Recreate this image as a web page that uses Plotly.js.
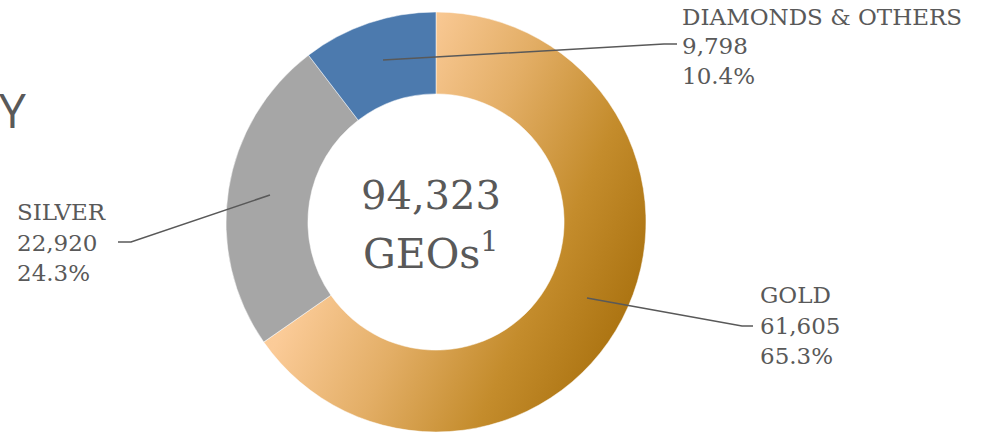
<!DOCTYPE html>
<html>
<head>
<meta charset="utf-8">
<script src="https://cdn.plot.ly/plotly-3.0.1.min.js"></script>
<style>html,body{margin:0;padding:0;background:#fff;}#chart{width:997px;height:433px;}</style>
</head>
<body>
<div id="chart"></div>
<script>
var categories = ["GOLD", "SILVER", "DIAMONDS & OTHERS"];
var values = [61605, 22920, 9798];
var valueLabels = ["61,605", "22,920", "9,798"];
var percentLabels = ["65.3%", "24.3%", "10.4%"];
var sliceColors = ["#D9A55C", "#A6A6A6", "#4C7AAE"];
var totalLabel = "94,323";
var unitLabel = "GEOs<sup>1</sup>";

var W = 997, H = 433;
function px(x){ return x / W; }
function py(y){ return 1 - y / H; }

var txtColor = "#595959";
var labFont = {family: "DejaVu Serif", size: 23, color: txtColor};

// label blocks: [x(left), line centers]
var labelPos = [
  {x: 758, ys: [295, 326, 356]},
  {x: 15, ys: [212, 243, 273]},
  {x: 680, ys: [17, 46, 76]}
];
var annotations = [];
categories.forEach(function(c, i){
  var lines = [c, valueLabels[i], percentLabels[i]];
  lines.forEach(function(t, j){
    annotations.push({xref: "paper", yref: "paper", x: px(labelPos[i].x), y: py(labelPos[i].ys[j]),
      xanchor: "left", yanchor: "middle", text: t, showarrow: false, font: labFont});
  });
});
annotations.push({xref: "paper", yref: "paper", x: px(431), y: py(195), xanchor: "center", yanchor: "middle",
  text: totalLabel, showarrow: false, font: {family: "DejaVu Serif", size: 40, color: txtColor}});
annotations.push({xref: "paper", yref: "paper", x: px(431), y: py(251), xanchor: "center", yanchor: "middle",
  text: unitLabel, showarrow: false, font: {family: "DejaVu Serif", size: 41, color: txtColor}});
annotations.push({xref: "paper", yref: "paper", x: px(-3), y: py(110), xanchor: "left", yanchor: "middle",
  text: "Y", showarrow: false, font: {family: "Open Sans", size: 48, color: txtColor}});

var leaders = [
  [[587, 298], [742, 326], [753, 326]],
  [[270, 195], [131, 242], [118, 242]],
  [[383, 60], [664, 44], [677, 44]]
];
var shapes = leaders.map(function(pts){
  var d = "M" + pts.map(function(p){ return px(p[0]) + "," + py(p[1]); }).join(" L");
  return {type: "path", xref: "paper", yref: "paper", path: d, line: {color: txtColor, width: 1.5}};
});

var data = [{
  type: "pie",
  labels: categories,
  values: values,
  hole: 0.61,
  sort: false,
  direction: "clockwise",
  rotation: 0,
  textinfo: "none",
  hoverinfo: "none",
  marker: {colors: sliceColors, line: {color: "#ffffff", width: 0.5}},
  domain: {x: [px(226), px(646)], y: [py(432), py(12)]}
}];

var layout = {
  width: W, height: H,
  margin: {l: 0, r: 0, t: 0, b: 0},
  paper_bgcolor: "#ffffff",
  showlegend: false,
  annotations: annotations,
  shapes: shapes
};

Plotly.newPlot("chart", data, layout, {displayModeBar: false, staticPlot: true}).then(function(){
  var svg = document.querySelector("#chart .main-svg");
  var ns = "http://www.w3.org/2000/svg";
  var defs = svg.querySelector("defs") || svg.insertBefore(document.createElementNS(ns, "defs"), svg.firstChild);
  var g = document.createElementNS(ns, "linearGradient");
  g.setAttribute("id", "goldGrad");
  g.setAttribute("x1", "0"); g.setAttribute("y1", "0.1");
  g.setAttribute("x2", "1"); g.setAttribute("y2", "0.6");
  [["0", "#FFD6A6"], ["0.3", "#FBCB98"], ["0.55", "#E3AE66"], ["0.8", "#C48C2C"], ["1", "#AD7513"]].forEach(function(s){
    var st = document.createElementNS(ns, "stop");
    st.setAttribute("offset", s[0]); st.setAttribute("stop-color", s[1]);
    g.appendChild(st);
  });
  defs.appendChild(g);
  var slices = document.querySelectorAll("#chart .slice path.surface");
  if (slices.length) slices[0].style.setProperty("fill", "url(#goldGrad)");
});
</script>
</body>
</html>
